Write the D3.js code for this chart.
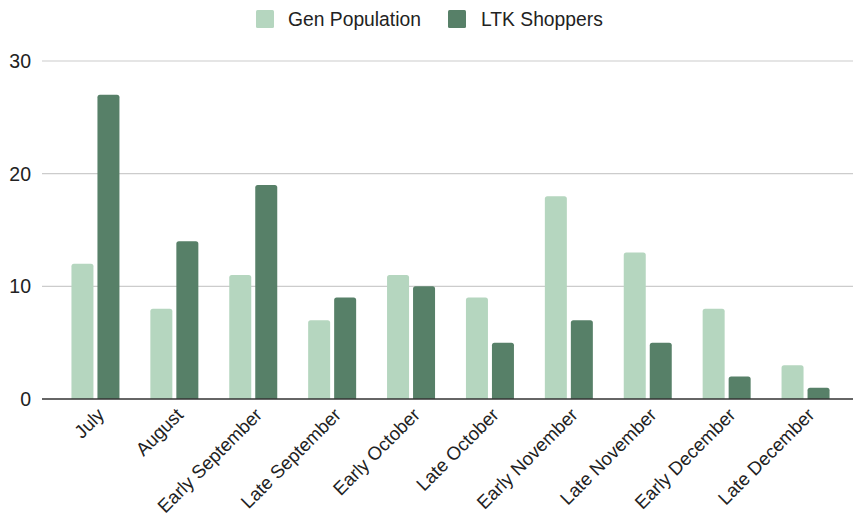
<!DOCTYPE html>
<html><head><meta charset="utf-8">
<script src="https://cdn.jsdelivr.net/npm/d3@7"></script>
<style>body{margin:0;background:#fff;} text{font-family:"Liberation Sans",Arial,sans-serif;}</style>
</head><body><svg id="c" width="853" height="521"></svg>
<script>
const categories = ["July","August","Early September","Late September","Early October","Late October","Early November","Late November","Early December","Late December"];
const seriesNames = ["Gen Population","LTK Shoppers"];
const genPopulation = [12,8,11,7,11,9,18,13,8,3];
const ltkShoppers = [27,14,19,9,10,5,7,5,2,1];
const yTicks = [0,10,20,30];
const colors = ["#b5d6bf","#578068"];

const svg = d3.select("#c");
const x = d3.scaleBand().domain(categories).range([56,845]);
const y = d3.scaleLinear().domain([0,30]).range([399,61]);

svg.append("g").selectAll("line").data(yTicks.filter(d=>d>0)).join("line")
  .attr("x1",42).attr("x2",853).attr("y1",d=>y(d)).attr("y2",d=>y(d))
  .attr("stroke","#cccccc").attr("stroke-width",1.2);
svg.append("g").selectAll("text").data(yTicks).join("text")
  .attr("x",31).attr("y",d=>y(d)).attr("dy","0.36em").attr("text-anchor","end")
  .attr("font-size",19.5).attr("fill","#222").text(d=>d);

function roundTop(x0,y0,w,h,r){
  r=Math.min(r,h,w/2);
  return `M${x0},${y0+h}V${y0+r}Q${x0},${y0} ${x0+r},${y0}H${x0+w-r}Q${x0+w},${y0} ${x0+w},${y0+r}V${y0+h}Z`;
}
const series=[genPopulation,ltkShoppers];
series.forEach((vals,si)=>{
  svg.append("g").selectAll("path").data(vals).join("path")
    .attr("fill",colors[si])
    .attr("d",(d,i)=>{
      const c=x(categories[i])+x.bandwidth()/2;
      const x0= si===0? c-24 : c+2;
      return roundTop(x0,y(d),22,y(0)-y(d),2.5);
    });
});
svg.append("line").attr("x1",42).attr("x2",853).attr("y1",y(0)).attr("y2",y(0))
  .attr("stroke","#333").attr("stroke-width",1.3);

svg.append("g").selectAll("text").data(categories).join("text")
  .attr("text-anchor","end").attr("font-size",18.6).attr("fill","#222")
  .attr("transform",d=>`translate(${x(d)+x.bandwidth()/2+10},${416}) rotate(-45)`)
  .text(d=>d);

const leg=[{x:256,tx:288},{x:448,tx:481}];
seriesNames.forEach((n,i)=>{
  svg.append("rect").attr("x",leg[i].x).attr("y",10).attr("width",18).attr("height",18).attr("rx",1.5).attr("fill",colors[i]);
  svg.append("text").attr("x",leg[i].tx).attr("y",19).attr("dy","0.36em").attr("font-size",19.3).attr("fill","#222").text(n);
});
</script></body></html>
